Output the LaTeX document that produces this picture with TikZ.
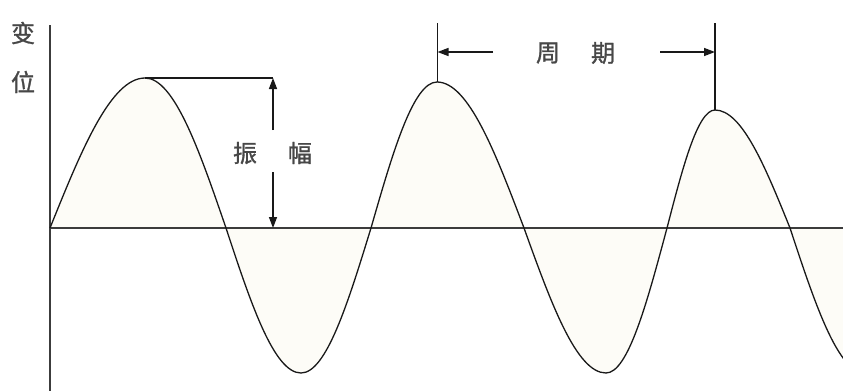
\documentclass[tikz,border=0pt]{standalone}
\usepackage{fontspec}
\newfontfamily\cjk[FakeBold=1.2]{Noto Sans CJK SC}
\usetikzlibrary{arrows.meta}
\definecolor{lobe}{RGB}{253,252,247}
\definecolor{ink}{RGB}{25,25,25}
\tikzset{
  wave/.style={draw=ink, line width=1.3pt},
  axisline/.style={draw=ink!85, line width=1.8pt},
  guide/.style={draw=ink, line width=1.4pt},
  marker/.style={draw=ink, line width=1.4pt, -{Triangle[length=11pt,width=8pt]}},
  lbl/.style={font=\cjk\fontsize{24}{28}\selectfont, text=ink!80, inner sep=0pt}
}
\begin{document}
\begin{tikzpicture}[x=1pt,y=-1pt]
\useasboundingbox (0,0) rectangle (843,391);
\fill[white] (0,0) rectangle (843,391);
\clip (0,0) rectangle (843,391);
% faint fill of lobes
\fill[lobe] (50,228) sin (145,78) cos (226,228) sin (301,373) cos (371,228) sin (437,82) cos (524,228) sin (606,373) cos (667,228) sin (715,110) cos (790,228) sin (865,373) -- (865,228) -- cycle;
% axes
\coordinate (o) at (50,228);
\coordinate (ytop) at (50,25);
\coordinate (ybot) at (50,391);
\coordinate (xend) at (843,228);
\draw[axisline] (ytop) -- (ybot);
\draw[axisline] (o) -- (xend);
% wave
\draw[wave] (o) sin (145,78) cos (226,228) sin (301,373) cos (371,228) sin (437,82) cos (524,228) sin (606,373) cos (667,228) sin (715,110) cos (790,228) sin (865,373);
% labels
\node[lbl] (bian) at (23,33) {变};
\node[lbl] (wei) at (23,82) {位};
% amplitude
\coordinate (pk1) at (145,78);
\coordinate (ampTop) at (273,78);
\coordinate (ampBot) at (273,228);
\node[lbl] (zhen) at (245,153) {振};
\node[lbl] (fu) at (300,153) {幅};
\coordinate (upStart) at (273,130);
\coordinate (dnStart) at (273,172);
\draw[guide] (pk1) -- (ampTop);
\draw[marker] (upStart) -- (ampTop);
\draw[marker] (dnStart) -- (ampBot);
% period
\coordinate (pk2) at (437.5,82);
\coordinate (pk3) at (715,110);
\coordinate (t2) at (437.5,23);
\coordinate (t3) at (715,23);
\draw[guide] (pk2) -- (t2);
\draw[guide] (pk3) -- (t3);
\node[lbl] (zhou) at (548,53) {周};
\node[lbl] (qi) at (603,53) {期};
\coordinate (lA) at (493,52);
\coordinate (lB) at (437.5,52);
\coordinate (rA) at (660,52);
\coordinate (rB) at (715,52);
\draw[marker] (lA) -- (lB);
\draw[marker] (rA) -- (rB);
\end{tikzpicture}
\end{document}
